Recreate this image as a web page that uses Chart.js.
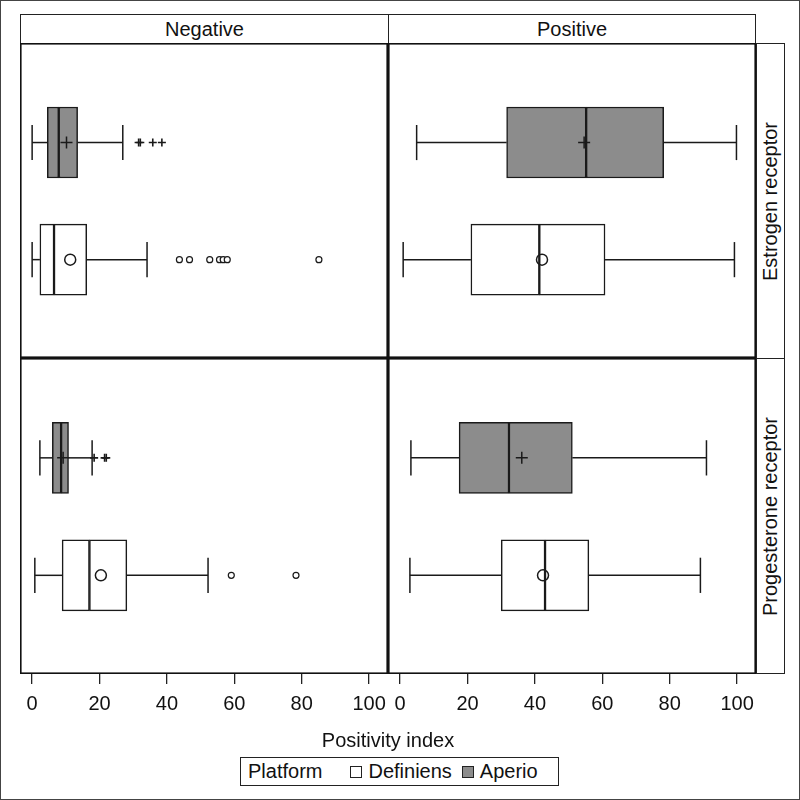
<!DOCTYPE html>
<html>
<head>
<meta charset="utf-8">
<script src="https://cdn.jsdelivr.net/npm/chart.js@4.4.0/dist/chart.umd.min.js"></script>
<style>
  html, body { margin: 0; padding: 0; background: #fff; }
  #page { position: relative; width: 800px; height: 800px; overflow: hidden;
          font-family: 'Liberation Sans', Arial, sans-serif; color: #111; }
  #frame { position: absolute; left: 0; top: 0; width: 800px; height: 800px;
           box-sizing: border-box; border: 1px solid #444; }
  .head, .strip { position: absolute; box-sizing: border-box; border: 1px solid #222;
                  display: flex; align-items: center; justify-content: center; font-size: 20px; }
  .strip span { transform: rotate(-90deg); white-space: nowrap; }
  canvas { position: absolute; }
  #xtitle { position: absolute; left: 20px; width: 736px; top: 729px; text-align: center; font-size: 20px; }
  #legend { position: absolute; left: 240px; top: 757px; width: 319px; height: 29px; box-sizing: border-box;
            border: 1px solid #222; display: flex; align-items: center; font-size: 20px; padding-left: 7px; }
  .sw { display: inline-block; width: 10px; height: 10px; border: 1px solid #222; margin: 0 6px 0 0; }
</style>
</head>
<body>
<div id="page">
  <div id="frame"></div>
  <div class="head" style="left:20px; top:14px; width:369px; height:30px;">Negative</div>
  <div class="head" style="left:388px; top:14px; width:368px; height:30px;">Positive</div>
  <div class="strip" style="left:756px; top:43px; width:29px; height:316px;"><span>Estrogen receptor</span></div>
  <div class="strip" style="left:756px; top:358px; width:29px; height:316px;"><span>Progesterone receptor</span></div>

  <canvas id="erNeg" width="368" height="315" style="left:20px; top:43px;"></canvas>
  <canvas id="erPos" width="368" height="315" style="left:388px; top:43px;"></canvas>
  <canvas id="prNeg" width="368" height="376" style="left:20px; top:358px;"></canvas>
  <canvas id="prPos" width="368" height="376" style="left:388px; top:358px;"></canvas>

  <div id="xtitle">Positivity index</div>
  <div id="legend">
    <span style="margin-right:28px;">Platform</span>
    <span class="sw" style="background:#fff;"></span><span style="margin-right:10px;">Definiens</span>
    <span class="sw" style="background:#8c8c8c;"></span><span>Aperio</span>
  </div>
</div>

<script>
// Positivity index ticks
const tickValues = [0, 20, 40, 60, 80, 100];
const platforms = ['Definiens', 'Aperio'];

// five number summaries: [min whisker, q1, median, q3, max whisker]
const erNegAperioBox = [0, 4.5, 7.9, 13.5, 26.9];
const erNegAperioMean = [10.2];
const erNegAperioOut = [31.6, 32.1, 35.8, 38.5];
const erNegDefiniensBox = [0, 2.3, 6.5, 16.2, 34.1];
const erNegDefiniensMean = [11.3];
const erNegDefiniensOut = [43.7, 46.7, 52.7, 55.6, 56.7, 57.9, 85.1];

const erPosAperioBox = [4.9, 31.6, 55.2, 78.2, 99.8];
const erPosAperioMean = [54.6];
const erPosAperioOut = [];
const erPosDefiniensBox = [0.9, 21.0, 41.3, 60.8, 99.2];
const erPosDefiniensMean = [42.1];
const erPosDefiniensOut = [];

const prNegAperioBox = [2.3, 6.0, 8.6, 10.8, 17.8];
const prNegAperioMean = [9.2];
const prNegAperioOut = [18.4, 21.5, 22.0];
const prNegDefiniensBox = [0.8, 8.9, 17.0, 28.1, 52.2];
const prNegDefiniensMean = [20.4];
const prNegDefiniensOut = [59.1, 78.3];

const prPosAperioBox = [3.2, 17.5, 32.3, 51.1, 90.9];
const prPosAperioMean = [36.1];
const prPosAperioOut = [];
const prPosDefiniensBox = [2.9, 30.0, 43.0, 56.0, 89.1];
const prPosDefiniensMean = [42.4];
const prPosDefiniensOut = [];

const lineColor = '#1a1a1a';
const aperioFill = '#8c8c8c';
const capHalf = 0.15;

// draws the frame round each panel
const panelFrame = {
    id: 'panelFrame',
    afterDraw(chart) {
        const a = chart.chartArea;
        const ctx = chart.ctx;
        ctx.save();
        ctx.strokeStyle = '#111';
        ctx.lineWidth = 1.6;
        ctx.strokeRect(a.left + 0.8, a.top + 0.8, a.width - 1.6, a.height - 1.6);
        ctx.restore();
    }
};

function segment(x1, y1, x2, y2) {
    return {
        type: 'scatter', showLine: true, order: 2,
        data: [{x: x1, y: y1}, {x: x2, y: y2}],
        borderColor: lineColor, borderWidth: 1.5, pointRadius: 0
    };
}

function boxDatasets(stats, mean, out, pos, platform) {
    const aperio = platform === 'Aperio';
    const [lo, q1, med, q3, hi] = stats;
    const sets = [];
    sets.push({
        type: 'bar', label: platform, indexAxis: 'y', grouped: false, order: 3,
        data: [{x: [q1, med], y: pos}, {x: [med, q3], y: pos}],
        backgroundColor: aperio ? aperioFill : '#ffffff',
        borderColor: lineColor, borderWidth: 1.5, borderSkipped: false,
        barThickness: 71
    });
    sets.push(segment(lo, pos, q1, pos));
    sets.push(segment(q3, pos, hi, pos));
    sets.push(segment(lo, pos - capHalf, lo, pos + capHalf));
    sets.push(segment(hi, pos - capHalf, hi, pos + capHalf));
    sets.push({
        type: 'scatter', order: 1,
        data: mean.map(v => ({x: v, y: pos})),
        pointStyle: aperio ? 'cross' : 'circle',
        pointRadius: aperio ? 6 : 5.5,
        pointBorderWidth: 1.5,
        pointBorderColor: lineColor,
        pointBackgroundColor: 'rgba(0,0,0,0)'
    });
    sets.push({
        type: 'scatter', order: 1,
        data: out.map(v => ({x: v, y: pos})),
        pointStyle: aperio ? 'cross' : 'circle',
        pointRadius: aperio ? 4 : 3,
        pointBorderWidth: aperio ? 1.6 : 1.2,
        pointBorderColor: lineColor,
        pointBackgroundColor: '#ffffff'
    });
    return sets;
}

function createPanel(id, definiens, aperio, showAxis) {
    const ctx = document.getElementById(id).getContext('2d');
    const datasets = [
        ...boxDatasets(aperio[0], aperio[1], aperio[2], 2, platforms[1]),
        ...boxDatasets(definiens[0], definiens[1], definiens[2], 1, platforms[0])
    ];
    return new Chart(ctx, {
        type: 'bar',
        data: { datasets: datasets },
        options: {
            responsive: false,
            animation: false,
            events: [],
            layout: { padding: 0, autoPadding: false },
            plugins: { legend: { display: false }, tooltip: { enabled: false } },
            scales: {
                x: {
                    type: 'linear', min: -3.6, max: 105.6, offset: false,
                    display: showAxis,
                    afterBuildTicks: axis => { axis.ticks = tickValues.map(v => ({value: v})); },
                    afterFit: axis => {
                        if (!showAxis) return;
                        axis.height = 60;
                        axis.paddingLeft = 0;
                        axis.paddingRight = 0;
                    },
                    grid: { offset: false, drawOnChartArea: false, drawTicks: true, tickLength: 10,
                            color: '#222', lineWidth: 1.3 },
                    border: { display: false },
                    ticks: { padding: 8, maxRotation: 0, color: '#111',
                             font: { family: 'Liberation Sans', size: 20 } }
                },
                y: {
                    type: 'linear', min: 0.16, max: 2.85, offset: false, display: false,
                    grid: { offset: false }
                }
            }
        },
        plugins: [panelFrame]
    });
}

createPanel('erNeg', [erNegDefiniensBox, erNegDefiniensMean, erNegDefiniensOut],
            [erNegAperioBox, erNegAperioMean, erNegAperioOut], false);
createPanel('erPos', [erPosDefiniensBox, erPosDefiniensMean, erPosDefiniensOut],
            [erPosAperioBox, erPosAperioMean, erPosAperioOut], false);
createPanel('prNeg', [prNegDefiniensBox, prNegDefiniensMean, prNegDefiniensOut],
            [prNegAperioBox, prNegAperioMean, prNegAperioOut], true);
createPanel('prPos', [prPosDefiniensBox, prPosDefiniensMean, prPosDefiniensOut],
            [prPosAperioBox, prPosAperioMean, prPosAperioOut], true);
</script>
</body>
</html>
